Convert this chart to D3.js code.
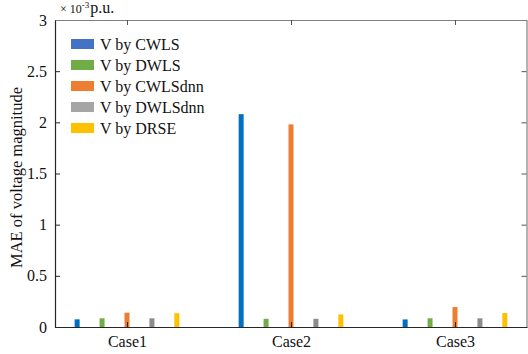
<!DOCTYPE html>
<html>
<head>
<meta charset="utf-8">
<script src="https://cdn.jsdelivr.net/npm/d3@7"></script>
<style>
  html, body { margin: 0; padding: 0; background: #fff; }
  svg { display: block; font-family: 'Liberation Serif', 'Times New Roman', serif; }
</style>
</head>
<body>
<div id="chart"></div>
<script>
(function () {
  'use strict';

  /* ---------- Data ---------- */
  const cases = ['Case1', 'Case2', 'Case3'];
  const seriesNames = ['V by CWLS', 'V by DWLS', 'V by CWLSdnn', 'V by DWLSdnn', 'V by DRSE'];
  const cwls     = [0.075, 2.08, 0.074];
  const dwls     = [0.085, 0.080, 0.085];
  const cwlsDnn  = [0.140, 1.98, 0.195];
  const dwlsDnn  = [0.085, 0.080, 0.085];
  const drse     = [0.135, 0.123, 0.137];
  const yTicks   = [0, 0.5, 1, 1.5, 2, 2.5, 3];

  const seriesValues = [cwls, dwls, cwlsDnn, dwlsDnn, drse];
  const barColors    = ['#0070C0', '#70AD47', '#ED7D31', '#8C8C8C', '#FFC000'];
  const legendColors = ['#4472C4', '#70AD47', '#ED7D31', '#A5A5A5', '#FFC000'];

  /* ---------- Size ---------- */
  const W = 528, H = 354;
  const m = { left: 55, right: 1, top: 20, bottom: 27 };

  const svg = d3.select('#chart').append('svg')
    .attr('width', W).attr('height', H);

  const x = d3.scaleLinear().domain([0.561, 3.439]).range([m.left, W - m.right]);
  const y = d3.scaleLinear().domain([0, 3]).range([H - m.bottom, m.top]);

  const step = 0.152;   // group offset per series (category units)
  const barW = 5;

  /* ---------- Bars ---------- */
  seriesValues.forEach((vals, s) => {
    svg.append('g')
      .selectAll('rect')
      .data(vals)
      .join('rect')
      .attr('x', (d, i) => x(i + 1 + (s - 2) * step) - barW / 2)
      .attr('y', d => y(d))
      .attr('width', barW)
      .attr('height', d => y(0) - y(d))
      .attr('fill', barColors[s]);
  });

  /* ---------- Axes ---------- */
  const fmt = d => String(d);

  const gL = svg.append('g').attr('transform', `translate(${m.left},0)`)
    .call(d3.axisLeft(y).tickValues(yTicks).tickFormat(fmt).tickSizeInner(-5).tickSizeOuter(0).tickPadding(8));
  const gR = svg.append('g').attr('transform', `translate(${W - m.right - 0.5},0)`)
    .call(d3.axisRight(y).tickValues(yTicks).tickFormat('').tickSizeInner(-5).tickSizeOuter(0));
  const gB = svg.append('g').attr('transform', `translate(0,${H - m.bottom})`)
    .call(d3.axisBottom(x).tickValues([1, 2, 3]).tickFormat((d, i) => cases[i]).tickSizeInner(-5).tickSizeOuter(0).tickPadding(9));
  const gT = svg.append('g').attr('transform', `translate(0,${m.top})`)
    .call(d3.axisTop(x).tickValues([1, 2, 3]).tickFormat('').tickSizeInner(-5).tickSizeOuter(0));

  [gL, gB].forEach(g => {
    g.select('.domain').attr('stroke', '#262626').attr('stroke-width', 1.2);
    g.selectAll('.tick line').attr('stroke', '#262626');
    g.selectAll('.tick text').attr('fill', '#111').attr('font-size', 16)
      .attr('font-family', "'Liberation Serif', serif");
  });
  [gR, gT].forEach(g => {
    g.select('.domain').attr('stroke', '#808080').attr('stroke-width', 1.2);
    g.selectAll('.tick line').attr('stroke', '#555');
  });

  /* ---------- Y label ---------- */
  svg.append('text')
    .attr('transform', `translate(22,${(y(0) + y(3)) / 2 + 4}) rotate(-90)`)
    .attr('text-anchor', 'middle')
    .attr('font-size', 16.5)
    .attr('fill', '#111')
    .text('MAE of voltage magnitude');

  /* ---------- Exponent label ---------- */
  const ex = svg.append('text').attr('x', 60).attr('y', 13).attr('fill', '#111');
  ex.append('tspan').attr('font-size', 12).text('× 10');
  ex.append('tspan').attr('font-size', 9).attr('dy', -5).text('-3');
  ex.append('tspan').attr('font-size', 16).attr('dy', 5).attr('dx', 1).text('p.u.');

  /* ---------- Legend ---------- */
  const lg = svg.append('g').attr('transform', 'translate(71,44)');
  const row = lg.selectAll('g').data(seriesNames).join('g')
    .attr('transform', (d, i) => `translate(0,${i * 21})`);
  row.append('rect')
    .attr('x', 0).attr('y', -5).attr('width', 23).attr('height', 10)
    .attr('fill', (d, i) => legendColors[i]);
  row.append('text')
    .attr('x', 29).attr('y', 5.5)
    .attr('font-size', 16).attr('fill', '#111')
    .text(d => d);
})();
</script>
</body>
</html>
